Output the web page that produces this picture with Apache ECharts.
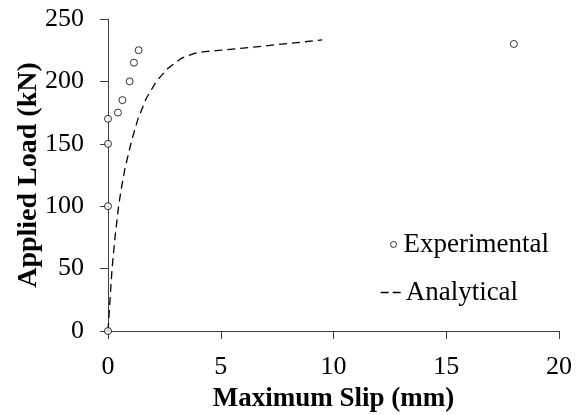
<!DOCTYPE html>
<html>
<head>
<meta charset="utf-8">
<script src="https://cdn.jsdelivr.net/npm/echarts@6/dist/echarts.min.js"></script>
<style>
  html, body { margin: 0; padding: 0; background: #fff; }
  #chart { width: 580px; height: 415px; }
</style>
</head>
<body>
<div id="chart"></div>
<script>
// Measured slip (mm) and applied load (kN)
const expSlip = [0, 0, 0, 0, 0.44, 0.64, 0.96, 1.15, 1.36, 18.0];
const expLoad = [0, 100, 150, 170, 175, 185, 200, 215, 225, 230];

// Analytical load-slip prediction
const anaSlip = [0, 0.09, 0.18, 0.31, 0.47, 0.57, 0.75, 1.04, 1.33, 1.70, 2.14, 2.66, 3.25, 3.84, 4.29, 5.0, 7.0, 9.5];
const anaLoad = [0, 25, 50, 75, 100, 112, 130, 152, 170, 186.5, 200, 210.5, 218.5, 222.5, 223.8, 225, 228.5, 233.2];

const xTicks = [0, 5, 10, 15, 20];
const yTicks = [0, 50, 100, 150, 200, 250];

const FONT = '"Liberation Serif", "Times New Roman", serif';
const AXIS_COLOR = '#404040';

const legendText = { fontFamily: FONT, fontSize: 27, color: '#000' };

const chart = echarts.init(document.getElementById('chart'));

chart.setOption({
  backgroundColor: '#fff',
  animation: false,
  textStyle: { fontFamily: FONT, color: '#000' },
  grid: { left: 108, right: 21, top: 19, bottom: 84, containLabel: false, outerBoundsMode: 'none' },
  legend: [
    {
      orient: 'vertical',
      left: 385,
      top: 226,
      itemWidth: 10,
      itemHeight: 6,
      textStyle: legendText,
      data: [
        { name: 'Experimental', icon: 'circle', itemStyle: { color: '#fff', borderColor: '#000', borderWidth: 1 } }
      ]
    },
    {
      orient: 'vertical',
      left: 375,
      top: 274,
      itemWidth: 20,
      itemHeight: 6,
      textStyle: legendText,
      data: [
        { name: 'Analytical', itemStyle: { opacity: 0 }, lineStyle: { color: '#000', width: 1.3, type: [8, 4] } }
      ]
    }
  ],
  xAxis: {
    type: 'value',
    min: xTicks[0],
    max: xTicks[xTicks.length - 1],
    interval: 5,
    name: 'Maximum Slip (mm)',
    nameLocation: 'middle',
    nameGap: 55,
    nameMoveOverlap: false,
    nameTextStyle: { fontFamily: FONT, fontSize: 27, fontWeight: 'bold', color: '#000' },
    axisLine: { show: true, lineStyle: { color: AXIS_COLOR, width: 1 } },
    axisTick: { show: true, length: 8, inside: false, lineStyle: { color: AXIS_COLOR } },
    axisLabel: { fontFamily: FONT, fontSize: 26, color: '#000', margin: 23 },
    splitLine: { show: false }
  },
  yAxis: {
    type: 'value',
    min: yTicks[0],
    max: yTicks[yTicks.length - 1],
    interval: 50,
    name: 'Applied Load (kN)',
    nameLocation: 'middle',
    nameGap: 65,
    nameMoveOverlap: false,
    nameTextStyle: { fontFamily: FONT, fontSize: 28, fontWeight: 'bold', color: '#000' },
    axisLine: { show: true, lineStyle: { color: AXIS_COLOR, width: 1 } },
    axisTick: { show: true, length: 8, inside: false, lineStyle: { color: AXIS_COLOR } },
    axisLabel: { fontFamily: FONT, fontSize: 26, color: '#000', margin: 24 },
    splitLine: { show: false }
  },
  series: [
    {
      name: 'Experimental',
      type: 'scatter',
      symbol: 'circle',
      symbolSize: 7,
      itemStyle: { color: '#fff', borderColor: '#000', borderWidth: 1 },
      data: expSlip.map((s, i) => [s, expLoad[i]]),
      z: 3
    },
    {
      name: 'Analytical',
      type: 'line',
      showSymbol: false,
      symbol: 'none',
      smooth: false,
      itemStyle: { color: '#000' },
      lineStyle: { color: '#000', width: 1.3, type: [8, 5] },
      data: anaSlip.map((s, i) => [s, anaLoad[i]]),
      z: 2
    }
  ]
});
</script>
</body>
</html>
